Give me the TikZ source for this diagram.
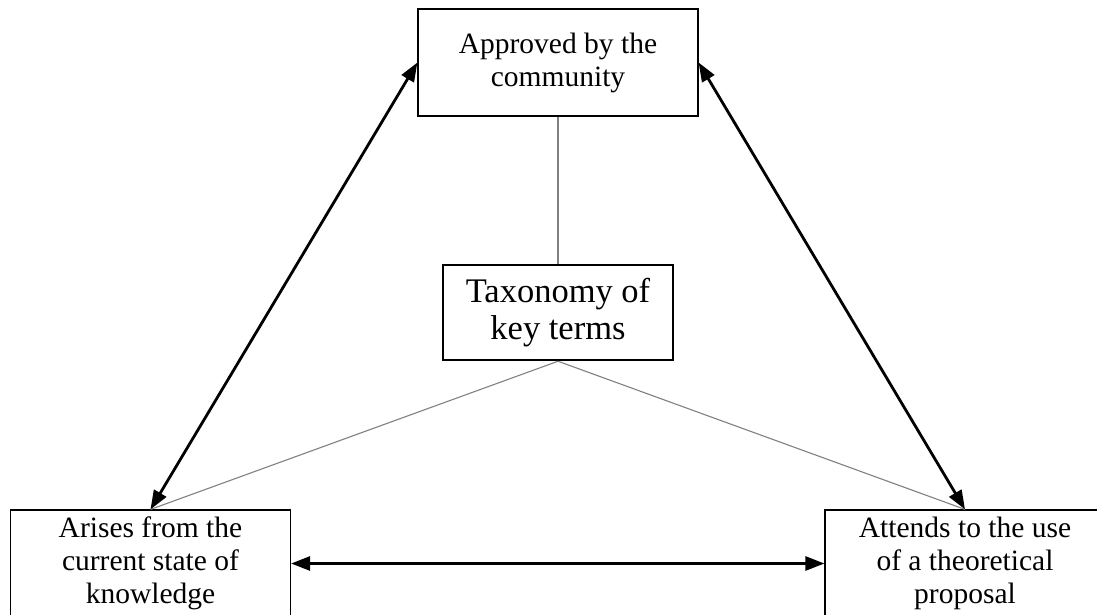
\documentclass[tikz,border=0pt]{standalone}
\usepackage{fontspec}
\setmainfont{Liberation Serif}
\usetikzlibrary{arrows.meta}
\begin{document}
\begin{tikzpicture}[x=1pt,y=1pt,
  box/.style={draw=black,line width=1.2pt,align=center,inner sep=0pt,
    minimum width=280pt,minimum height=107pt,font=\fontsize{29.5}{33}\selectfont},
  mainbox/.style={draw=black,line width=2.5pt,align=center,inner sep=0pt,
    minimum width=230pt,minimum height=95pt,font=\fontsize{34.5}{37}\selectfont},
  link/.style={draw=gray,line width=1.1pt},
  dblarrow/.style={line width=2.8pt,{Triangle[length=19pt,width=14pt]}-{Triangle[length=19pt,width=14pt]}}
]
\useasboundingbox (0,0) rectangle (1097,614);
\node[box] (top) at (558,551.5) {Approved by the\\community};
\node[mainbox] (tax) at (558,301.5) {Taxonomy of\\key terms};
\node[box] (bl) at (150.5,50.5) {Arises from the\\current state of\\knowledge};
\node[box] (br) at (965,50.5) {Attends to the use\\of a theoretical\\proposal};
\draw[link] (top.south) -- (tax.north);
\draw[link] (tax.south) -- (bl.north);
\draw[link] (tax.south) -- (br.north);
\draw[dblarrow] (top.west) -- (bl.north);
\draw[dblarrow] (top.east) -- (br.north);
\draw[dblarrow] (bl.east) -- (br.west);
\end{tikzpicture}
\end{document}
